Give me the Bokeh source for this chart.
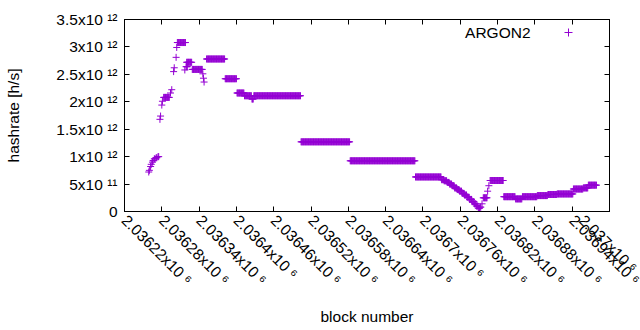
import math
import numpy as np
from bokeh.plotting import figure
from bokeh.models import (FixedTicker, LinearAxis, Range1d, Legend, LegendItem,
                          Label, ColumnDataSource)
from bokeh.core.properties import value
from bokeh.embed import file_html
from bokeh.resources import INLINE

# ---- data: runs of consecutive blocks sharing one hashrate (in 1e12 h/s) ----
run_start = [2036259, 2036260, 2036262, 2036263, 2036265, 2036266, 2036268, 2036271,
             2036274, 2036277, 2036278, 2036280, 2036281, 2036283, 2036294, 2036296,
             2036299, 2036300, 2036303, 2036304, 2036305, 2036317, 2036319, 2036320,
             2036329, 2036346, 2036347, 2036348, 2036352, 2036382, 2036401, 2036413,
             2036425, 2036428, 2036504, 2036583, 2036688, 2036730, 2036734, 2036739,
             2036743, 2036747, 2036751, 2036755, 2036759, 2036763, 2036767, 2036771,
             2036775, 2036779, 2036783, 2036786, 2036789, 2036792, 2036795, 2036797,
             2036804, 2036806, 2036808, 2036830, 2036849, 2036860, 2036884, 2036901,
             2036916, 2036942, 2036958, 2036966]
run_end = [2036259, 2036260, 2036262, 2036263, 2036265, 2036266, 2036269, 2036272,
           2036275, 2036277, 2036278, 2036280, 2036281, 2036292, 2036294, 2036296,
           2036299, 2036300, 2036303, 2036304, 2036318, 2036317, 2036321, 2036328,
           2036345, 2036346, 2036347, 2036348, 2036381, 2036400, 2036412, 2036424,
           2036427, 2036503, 2036582, 2036687, 2036729, 2036733, 2036738, 2036742,
           2036746, 2036750, 2036754, 2036758, 2036762, 2036766, 2036770, 2036774,
           2036778, 2036782, 2036785, 2036788, 2036791, 2036793, 2036795, 2036803,
           2036804, 2036806, 2036829, 2036848, 2036859, 2036883, 2036900, 2036915,
           2036941, 2036957, 2036965, 2036979]
run_hashrate = [0.72, 0.75, 0.82, 0.86, 0.90, 0.93, 0.96, 0.98,
                1.00, 1.68, 1.74, 1.94, 2.01, 2.08, 2.16, 2.22,
                2.55, 2.62, 2.81, 2.99, 3.08, 2.58, 2.64, 2.72,
                2.59, 2.51, 2.43, 2.36, 2.78, 2.42, 2.16, 2.11,
                2.05, 2.11, 1.27, 0.924, 0.63, 0.58, 0.56, 0.53,
                0.50, 0.47, 0.43, 0.40, 0.37, 0.33, 0.30, 0.26,
                0.22, 0.18, 0.14, 0.10, 0.06, 0.08, 0.14, 0.25,
                0.37, 0.47, 0.565, 0.27, 0.23, 0.27, 0.29, 0.31,
                0.32, 0.41, 0.43, 0.48]

x_ticks = [2036220, 2036280, 2036340, 2036400, 2036460, 2036520, 2036580,
           2036640, 2036700, 2036760, 2036820, 2036880, 2036940, 2037000]
x_tick_labels = ["2.03622x10 \u2076", "2.03628x10 \u2076", "2.03634x10 \u2076",
                 "2.0364x10 \u2076", "2.03646x10 \u2076", "2.03652x10 \u2076",
                 "2.03658x10 \u2076", "2.03664x10 \u2076", "2.0367x10 \u2076",
                 "2.03676x10 \u2076", "2.03682x10 \u2076", "2.03688x10 \u2076",
                 "2.03694x10 \u2076", "2.037x10 \u2076"]
y_ticks = [0, 5e11, 1e12, 1.5e12, 2e12, 2.5e12, 3e12, 3.5e12]
y_tick_labels = ["0", "5x10 \u00b9\u00b9", "1x10 \u00b9\u00b2", "1.5x10 \u00b9\u00b2",
                 "2x10 \u00b9\u00b2", "2.5x10 \u00b9\u00b2", "3x10 \u00b9\u00b2",
                 "3.5x10 \u00b9\u00b2"]
series_name = "ARGON2"

# expand runs into one point per block
blocks, rates = [], []
for s, e, v in zip(run_start, run_end, run_hashrate):
    for b in range(s, e + 1):
        blocks.append(b)
        rates.append(v * 1e12)
src = ColumnDataSource(dict(block=blocks, rate=rates))

FONT = "Liberation Sans"
FS = "15.5px"
COLOR = "#9400D3"

p = figure(frame_width=485, frame_height=192, output_backend="svg", toolbar_location=None,
           x_range=Range1d(2036220, 2037000), y_range=Range1d(0, 3.5e12),
           min_border_left=124, min_border_right=31, min_border_top=19,
           min_border_bottom=119, x_axis_label="block number",
           y_axis_label="hashrate [h/s]")
p.xgrid.visible = False
p.ygrid.visible = False
p.outline_line_color = "black"
p.outline_line_alpha = 1.0
p.outline_line_width = 1
p.background_fill_color = "white"
p.border_fill_color = "white"

r = p.scatter("block", "rate", source=src, marker="cross", size=7,
              line_color=COLOR, line_width=1)

for ax in (p.xaxis[0], p.yaxis[0]):
    ax.major_tick_in = 5
    ax.major_tick_out = 0
    ax.minor_tick_line_color = None
    ax.axis_line_color = "black"
    ax.major_tick_line_color = "black"
    ax.major_label_text_font = FONT
    ax.major_label_text_font_size = FS
    ax.major_label_text_color = "black"
    ax.axis_label_text_font = FONT
    ax.axis_label_text_font_size = FS
    ax.axis_label_text_font_style = "normal"
    ax.axis_label_text_color = "black"

p.xaxis[0].ticker = FixedTicker(ticks=x_ticks)
p.xaxis[0].major_label_overrides = dict(zip(x_ticks, x_tick_labels))
p.xaxis[0].major_label_orientation = -math.pi / 4
p.xaxis[0].major_label_standoff = 6
p.xaxis[0].axis_label_standoff = 11

p.yaxis[0].ticker = FixedTicker(ticks=y_ticks)
p.yaxis[0].major_label_overrides = dict(zip(y_ticks, y_tick_labels))
p.yaxis[0].major_label_standoff = 7
p.yaxis[0].axis_label_standoff = 31

top = LinearAxis(ticker=FixedTicker(ticks=x_ticks), major_tick_in=5, major_tick_out=0,
                 minor_tick_line_color=None, major_label_text_font_size="1px",
                 major_label_text_color=None, major_label_standoff=0,
                 axis_line_color="black")
right = LinearAxis(ticker=FixedTicker(ticks=y_ticks), major_tick_in=5, major_tick_out=0,
                   minor_tick_line_color=None, major_label_text_font_size="1px",
                   major_label_text_color=None, major_label_standoff=0,
                   axis_line_color="black")
p.add_layout(top, "above")
p.add_layout(right, "right")

legend = Legend(items=[LegendItem(label=value(" "), renderers=[r])],
                location=(434, 169), border_line_color=None, background_fill_alpha=0,
                padding=0, spacing=0, glyph_width=20, glyph_height=20, label_width=0,
                label_standoff=0, margin=0, label_text_font_size="1px")
p.add_layout(legend)

p.add_layout(Label(x=2036873, y=3.26e12, text=series_name, text_align="right",
                   text_baseline="middle", text_font=FONT, text_font_size=FS,
                   text_color="black"))

open("out.html", "w").write(file_html(p, INLINE))
